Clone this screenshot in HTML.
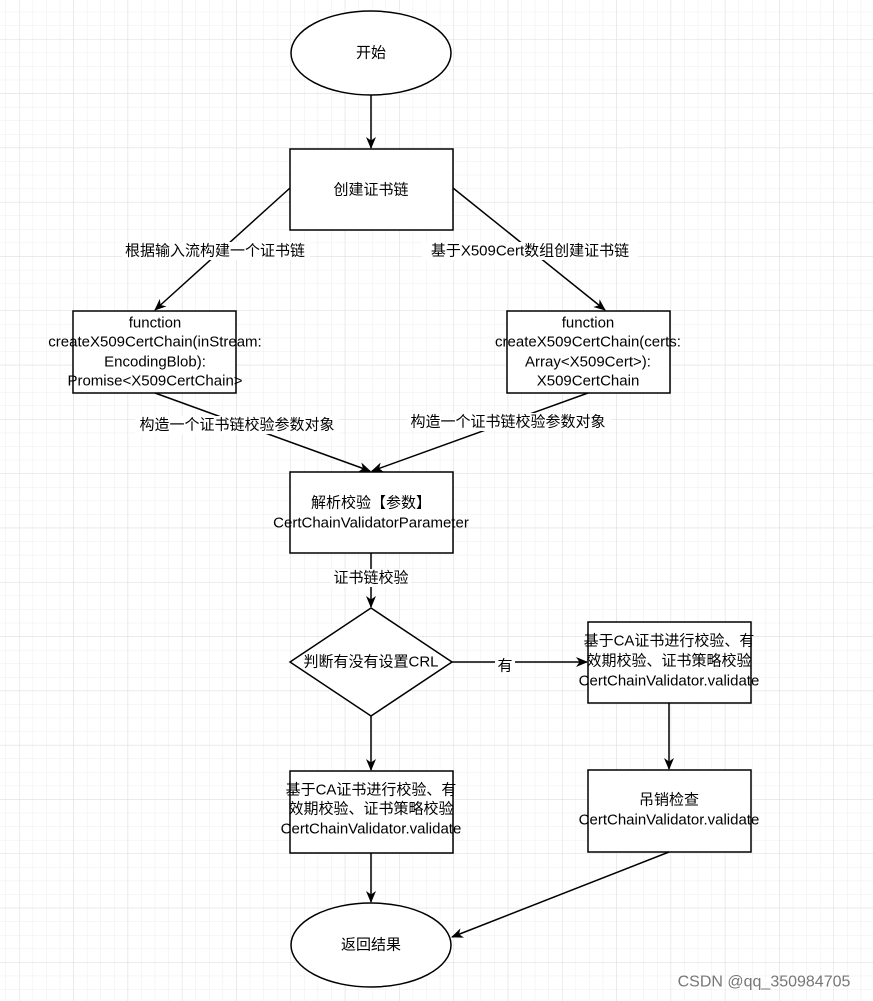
<!DOCTYPE html>
<html><head><meta charset="utf-8"><style>
html,body{margin:0;padding:0;background:#fff;}
svg{display:block;}
text{font-family:"Liberation Sans","Noto Sans CJK SC",sans-serif;font-size:15px;fill:#000;text-anchor:middle;dominant-baseline:central;}
</style></head><body>
<svg width="873" height="1001" viewBox="0 0 873 1001" xmlns="http://www.w3.org/2000/svg">
<defs>
<pattern id="minor" x="19" y="39" width="13.575" height="13.575" patternUnits="userSpaceOnUse">
<path d="M0 0H13.575M0 0V13.575" stroke="#ededed" stroke-width="1" fill="none"/>
</pattern>
<pattern id="major" x="19" y="39" width="54.3" height="54.3" patternUnits="userSpaceOnUse">
<path d="M0 0H54.3M0 0V54.3" stroke="#dedede" stroke-width="1" fill="none"/>
</pattern>
<marker id="a" markerWidth="12" markerHeight="12" refX="11" refY="6" orient="auto" markerUnits="userSpaceOnUse">
<path d="M0,1 L12,6 L0,11 L3.5,6 z" fill="#000"/>
</marker>
</defs>
<rect width="873" height="1001" fill="url(#minor)"/>
<rect width="873" height="1001" fill="url(#major)"/>
<g stroke="#000" stroke-width="1.5" fill="#fff">
<ellipse cx="371" cy="53" rx="80" ry="42"/>
<rect x="290" y="149" width="163" height="81"/>
<rect x="73" y="311" width="163" height="82"/>
<rect x="507" y="311" width="163" height="82"/>
<rect x="290" y="472" width="163" height="81"/>
<polygon points="371,608 452,662 371,716 290,662"/>
<rect x="588" y="622" width="163" height="81"/>
<rect x="588" y="770" width="163" height="82"/>
<rect x="290" y="771" width="163" height="82"/>
<ellipse cx="371" cy="945" rx="80" ry="42"/>
</g>
<g stroke="#000" stroke-width="1.5" fill="none" marker-end="url(#a)">
<line x1="371" y1="95" x2="371" y2="148"/>
<line x1="290" y1="188" x2="155" y2="310"/>
<line x1="453" y1="188" x2="605" y2="310"/>
<line x1="155" y1="393" x2="370" y2="471"/>
<line x1="588" y1="393" x2="372" y2="471"/>
<line x1="371" y1="553" x2="371" y2="607"/>
<line x1="452" y1="662" x2="587" y2="662"/>
<line x1="669" y1="703" x2="669" y2="769"/>
<line x1="371" y1="716" x2="371" y2="770"/>
<line x1="371" y1="853" x2="371" y2="902"/>
<line x1="669" y1="852" x2="452" y2="937"/>
</g>
<g fill="#fff">
<rect x="122" y="242" width="188" height="18"/>
<rect x="422" y="242" width="216" height="18"/>
<rect x="135" y="416" width="204" height="18"/>
<rect x="407" y="413" width="204" height="18"/>
<rect x="331" y="569" width="80" height="18"/>
<rect x="495" y="657" width="20" height="18"/>
</g>
<text x="371" y="53">开始</text>
<text x="371" y="190">创建证书链</text>
<text x="215" y="251">根据输入流构建一个证书链</text>
<text x="530" y="251">基于X509Cert数组创建证书链</text>
<text x="155" y="323">function</text>
<text x="155" y="342">createX509CertChain(inStream:</text>
<text x="155" y="362">EncodingBlob):</text>
<text x="155" y="381">Promise&lt;X509CertChain&gt;</text>
<text x="588" y="323">function</text>
<text x="588" y="342">createX509CertChain(certs:</text>
<text x="588" y="362">Array&lt;X509Cert&gt;):</text>
<text x="588" y="381">X509CertChain</text>
<text x="237" y="425">构造一个证书链校验参数对象</text>
<text x="508" y="422">构造一个证书链校验参数对象</text>
<text x="371" y="503">解析校验【参数】</text>
<text x="371" y="523">CertChainValidatorParameter</text>
<text x="371" y="578">证书链校验</text>
<text x="371" y="662">判断有没有设置CRL</text>
<text x="505" y="666">有</text>
<text x="669" y="641">基于CA证书进行校验、有</text>
<text x="669" y="661">效期校验、证书策略校验</text>
<text x="669" y="681">CertChainValidator.validate</text>
<text x="669" y="800">吊销检查</text>
<text x="669" y="820">CertChainValidator.validate</text>
<text x="371" y="790">基于CA证书进行校验、有</text>
<text x="371" y="809">效期校验、证书策略校验</text>
<text x="371" y="829">CertChainValidator.validate</text>
<text x="371" y="945">返回结果</text>
<text x="764" y="982" style="font-size:16px;fill:#777;">CSDN @qq_350984705</text>
</svg>
</body></html>
